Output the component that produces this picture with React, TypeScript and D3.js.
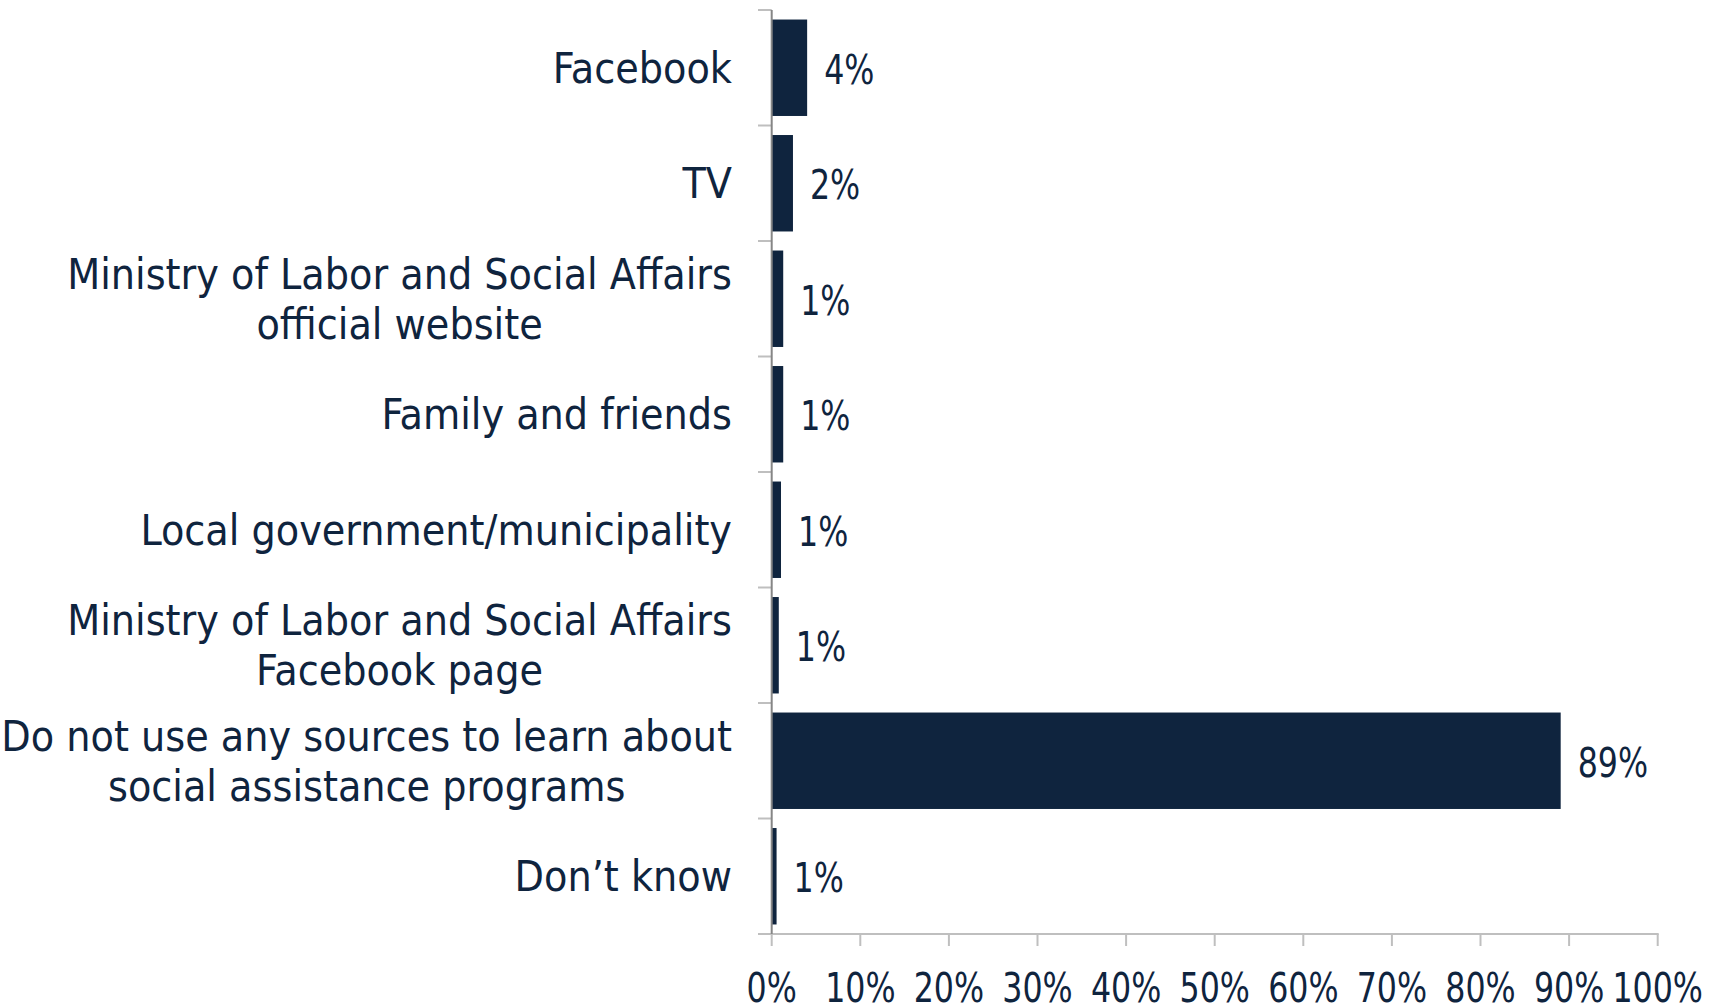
import React from "react";
import * as d3 from "d3";

const categories = [
  "Facebook",
  "TV",
  "Ministry of Labor and Social Affairs\nofficial website",
  "Family and friends",
  "Local government/municipality",
  "Ministry of Labor and Social Affairs\nFacebook page",
  "Do not use any sources to learn about\nsocial assistance programs",
  "Don\u2019t know",
];
const values = [4.0, 2.4, 1.3, 1.3, 1.05, 0.8, 89.05, 0.55];
const xTicks = [0, 10, 20, 30, 40, 50, 60, 70, 80, 90, 100];

const W = 1721;
const H = 1004;
const X0 = 771.7;
const X1 = 1657.7;
const Y0 = 10;
const Y1 = 934;
const LABEL_RIGHT = 732;
const NAVY = "#0F243E";
const CAT_SIZE = 42.5;
const CAT_FONT = "'DejaVu Sans Condensed', 'DejaVu Sans', sans-serif";
const NUM_FONT = "'Liberation Sans Narrow', 'Arial Narrow', 'DejaVu Sans Condensed', sans-serif";
const NUM_SCALE = 0.88;

function measure(text: string): number {
  const canvas = document.createElement("canvas");
  const ctx = canvas.getContext("2d");
  if (!ctx) return text.length * CAT_SIZE * 0.5;
  ctx.font = `${CAT_SIZE}px ${CAT_FONT}`;
  return ctx.measureText(text).width;
}

export default function App() {
  const x = d3.scaleLinear().domain([0, 100]).range([X0, X1]);
  const y = d3
    .scaleBand<string>()
    .domain(categories)
    .range([Y0, Y1])
    .paddingInner(0.165)
    .paddingOuter(0.0825);
  const step = y.step();
  const boundaries = d3.range(categories.length + 1).map((i) => Y0 + i * step);

  return (
    <svg
      width={W}
      height={H}
      style={{ position: "absolute", left: 0, top: 0, background: "#fff" }}
    >
      <rect x={0} y={0} width={W} height={H} fill="#fff" />
      {categories.map((c, i) => (
        <rect
          key={c}
          x={x(0)}
          y={y(c)}
          width={x(values[i]) - x(0)}
          height={y.bandwidth()}
          fill={NAVY}
        />
      ))}
      {boundaries.map((b, i) => (
        <line key={i} x1={758} x2={X0} y1={b} y2={b} stroke="#bfbfbf" strokeWidth={2} />
      ))}
      <line x1={X0} x2={X1 + 1} y1={Y1} y2={Y1} stroke="#bfbfbf" strokeWidth={2} />
      {xTicks.map((t) => (
        <line key={t} x1={x(t)} x2={x(t)} y1={Y1} y2={Y1 + 12} stroke="#bfbfbf" strokeWidth={2} />
      ))}
      <line x1={X0} x2={X0} y1={Y0} y2={Y1} stroke="#868686" strokeWidth={2} />
      {categories.map((c) => {
        const lines = c.split("\n");
        const center = (y(c) as number) + y.bandwidth() / 2;
        const blockW = Math.max(...lines.map(measure));
        const cx = LABEL_RIGHT - blockW / 2;
        return (
          <text
            key={c}
            textAnchor={lines.length > 1 ? "middle" : "end"}
            fontFamily={CAT_FONT}
            fontSize={CAT_SIZE}
            fill={NAVY}
          >
            {lines.map((l, j) => (
              <tspan
                key={j}
                x={lines.length > 1 ? cx : LABEL_RIGHT}
                y={center + 15 + (j - (lines.length - 1) / 2) * 50}
              >
                {l}
              </tspan>
            ))}
          </text>
        );
      })}
      {categories.map((c, i) => (
        <text
          key={c}
          transform={`translate(${x(values[i]) + 17},${(y(c) as number) + y.bandwidth() / 2 + 16}) scale(${NUM_SCALE},1)`}
          fontFamily={NUM_FONT}
          fontSize={40}
          fill={NAVY}
        >
          {Math.round(values[i]) + "%"}
        </text>
      ))}
      {xTicks.map((t) => (
        <text
          key={t}
          transform={`translate(${x(t)},1001.5) scale(${NUM_SCALE},1)`}
          textAnchor="middle"
          fontFamily={NUM_FONT}
          fontSize={40}
          fill={NAVY}
        >
          {t + "%"}
        </text>
      ))}
    </svg>
  );
}
